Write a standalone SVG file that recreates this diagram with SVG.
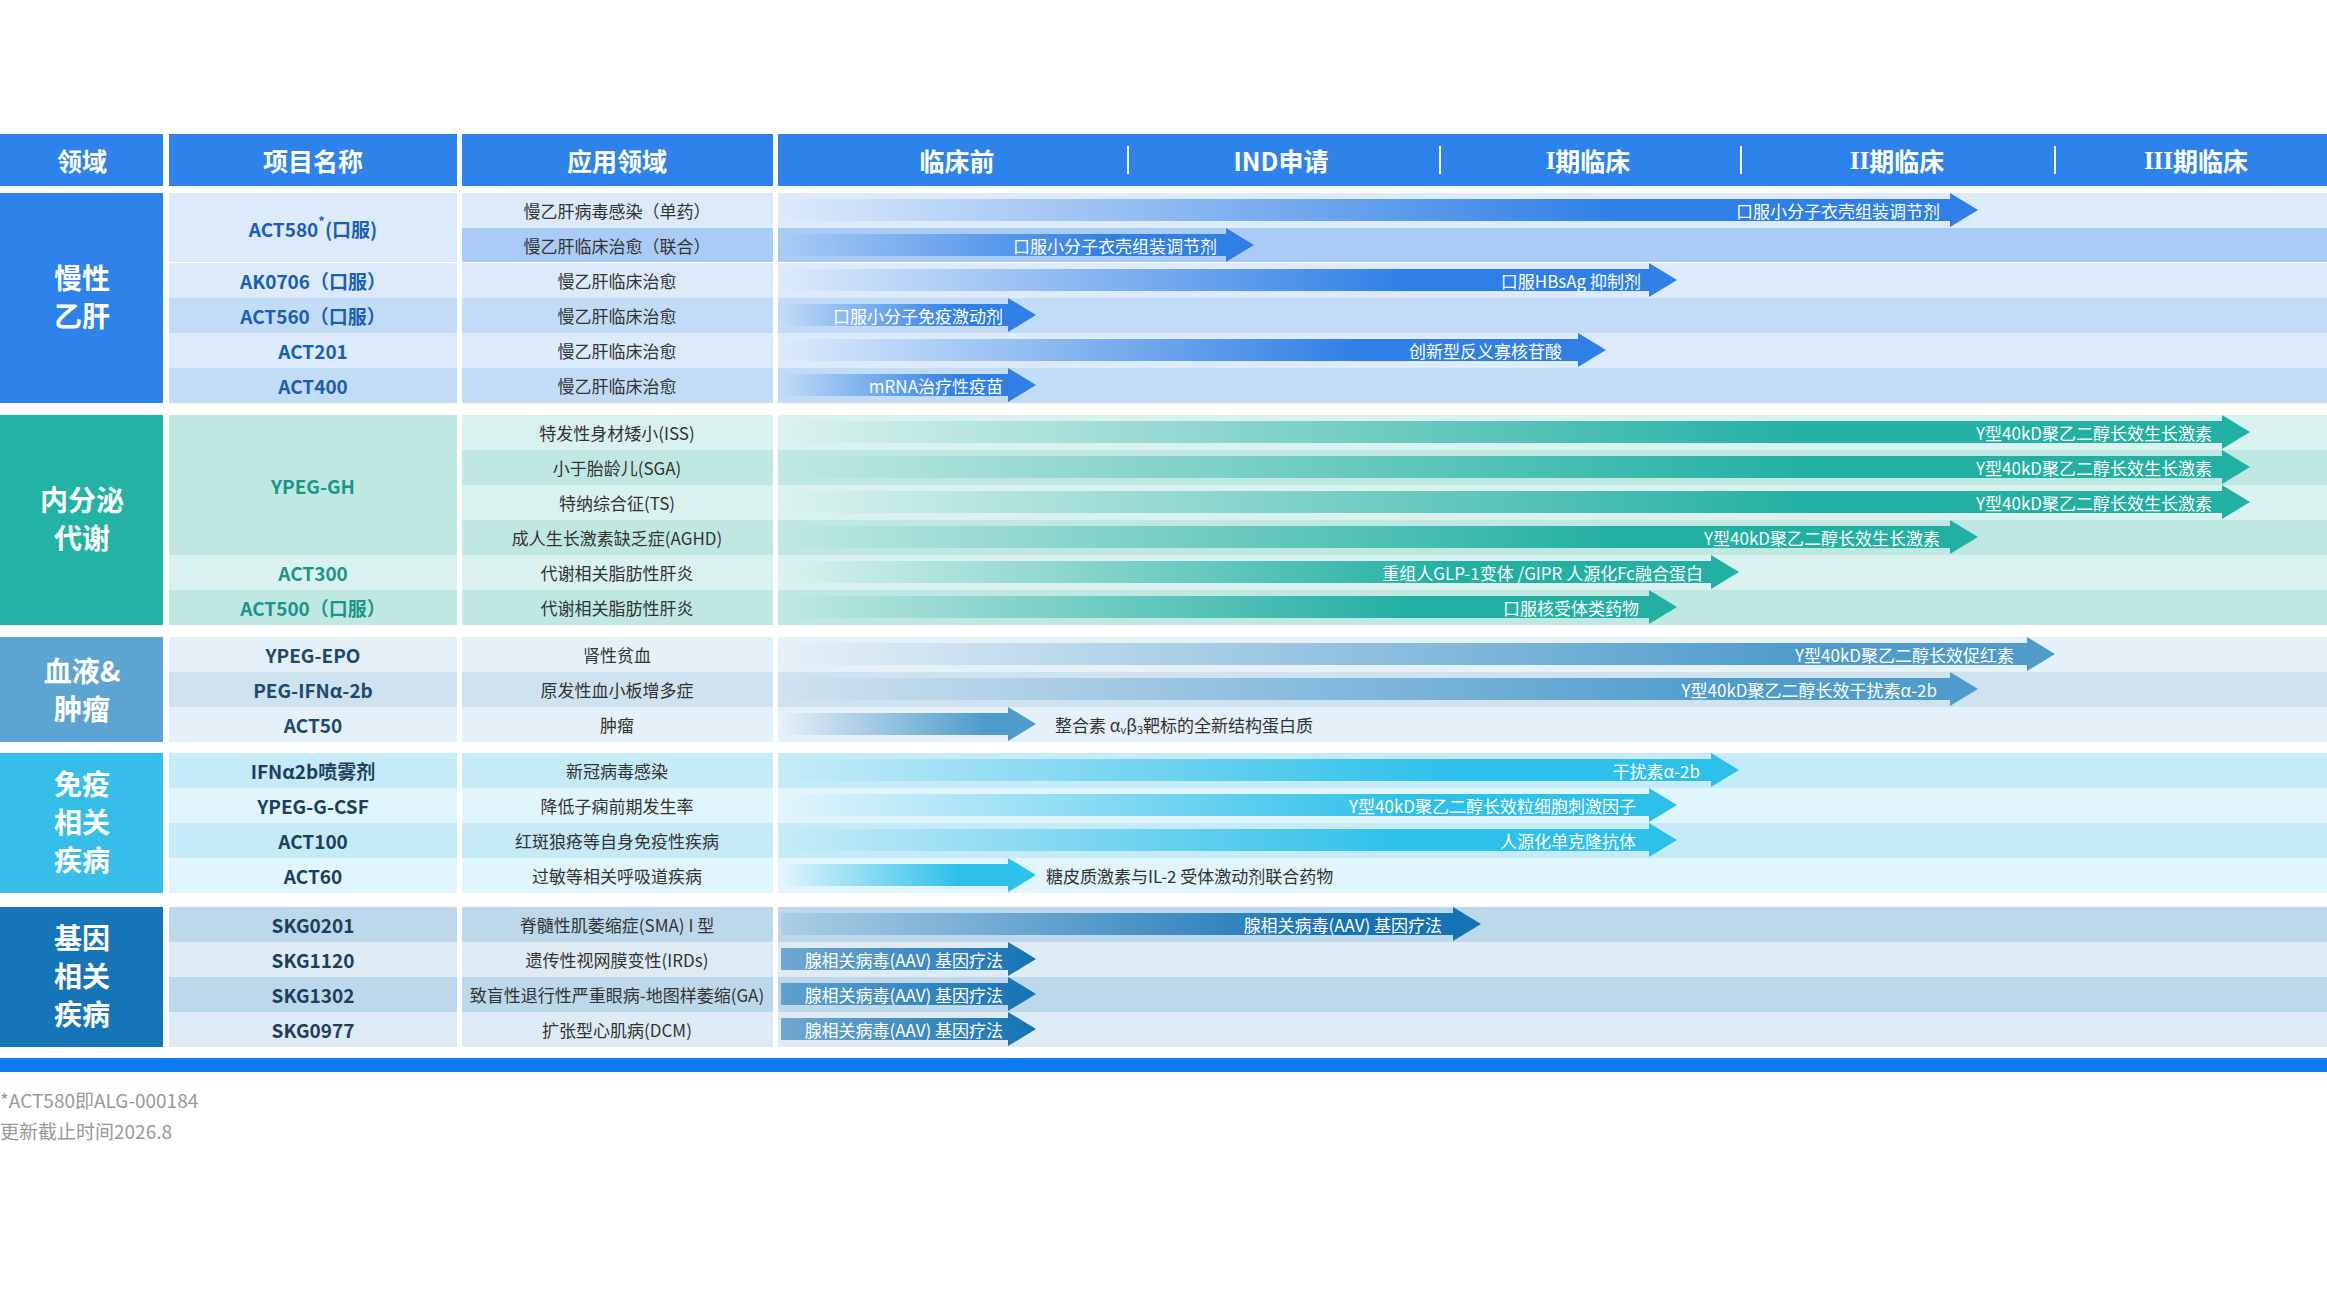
<svg xmlns="http://www.w3.org/2000/svg" width="2327" height="1309" viewBox="0 0 2327 1309">
<style>
text{font-family:"Noto Sans CJK SC","Noto Sans",sans-serif}
.h{fill:#fff;font-size:25px;font-weight:bold;text-anchor:middle;dominant-baseline:central}
.sec{fill:#fff;font-size:28px;font-weight:bold;text-anchor:middle}
.p{font-size:19px;font-weight:bold;text-anchor:middle;dominant-baseline:central}
.a{fill:#333;font-size:17px;text-anchor:middle;dominant-baseline:central}
.l{fill:#fff;font-size:17px;text-anchor:end;dominant-baseline:central}
.o{fill:#333;font-size:17px;dominant-baseline:central}
.f{fill:#999;font-size:19px}
.sep{stroke:#fff;stroke-width:2}
</style>
<defs>
<linearGradient id="g1"><stop offset="0" stop-color="#2f7fe6" stop-opacity="0"/><stop offset="0.7" stop-color="#2f7fe6"/></linearGradient>
<linearGradient id="g2"><stop offset="0" stop-color="#22b0a2" stop-opacity="0"/><stop offset="0.7" stop-color="#22b0a2"/></linearGradient>
<linearGradient id="g3"><stop offset="0" stop-color="#4e9bcc" stop-opacity="0"/><stop offset="0.8" stop-color="#4e9bcc"/></linearGradient>
<linearGradient id="g4"><stop offset="0" stop-color="#2cc0ea" stop-opacity="0"/><stop offset="0.7" stop-color="#2cc0ea"/></linearGradient>
<linearGradient id="g5"><stop offset="0" stop-color="#1472b5" stop-opacity="0.1"/><stop offset="0.8" stop-color="#1472b5"/></linearGradient>
<linearGradient id="g5s"><stop offset="0" stop-color="#1472b5" stop-opacity="0.55"/><stop offset="1" stop-color="#1472b5"/></linearGradient>
</defs>

<g id="header">
<rect x="0" y="134" width="163" height="52" fill="#2e83ea"/>
<rect x="169" y="134" width="288" height="52" fill="#2e83ea"/>
<rect x="462" y="134" width="311" height="52" fill="#2e83ea"/>
<rect x="778" y="134" width="1549" height="52" fill="#2e83ea"/>
<text class="h" x="82" y="160">领域</text>
<text class="h" x="313" y="160">项目名称</text>
<text class="h" x="617" y="160">应用领域</text>
<text class="h" x="957" y="160">临床前</text>
<text class="h" x="1281" y="160">IND申请</text>
<text class="h" x="1588" y="160"><tspan font-family="Liberation Serif,serif">I</tspan>期临床</text>
<text class="h" x="1897" y="160"><tspan font-family="Liberation Serif,serif">II</tspan>期临床</text>
<text class="h" x="2196" y="160"><tspan font-family="Liberation Serif,serif">III</tspan>期临床</text>
<line class="sep" x1="1128" y1="146" x2="1128" y2="174"/>
<line class="sep" x1="1440" y1="146" x2="1440" y2="174"/>
<line class="sep" x1="1741" y1="146" x2="1741" y2="174"/>
<line class="sep" x1="2055" y1="146" x2="2055" y2="174"/>
</g>

<g id="section-hbv">
<rect x="0" y="193" width="163" height="210" fill="#2e83ea"/>
<text class="sec" x="82" y="289">慢性</text><text class="sec" x="82" y="327">乙肝</text>
<rect x="169" y="193" width="288" height="69" fill="#dceafb"/>
<rect x="169" y="263" width="288" height="35" fill="#dceafb"/>
<rect x="169" y="298" width="288" height="35" fill="#c2dcf7"/>
<rect x="169" y="333" width="288" height="35" fill="#dceafb"/>
<rect x="169" y="368" width="288" height="35" fill="#c2dcf7"/>
<rect x="462" y="193" width="1865" height="35" fill="#dceafb"/>
<rect x="462" y="228" width="1865" height="34" fill="#a9cbf5"/>
<rect x="462" y="263" width="1865" height="35" fill="#dceafb"/>
<rect x="462" y="298" width="1865" height="35" fill="#c2dcf7"/>
<rect x="462" y="333" width="1865" height="35" fill="#dceafb"/>
<rect x="462" y="368" width="1865" height="35" fill="#c2dcf7"/>
<rect x="773" y="193" width="5" height="210" fill="#fff"/>
<g fill="#1b5fb5">
<text class="p" x="313" y="228">ACT580<tspan dy="-8" font-size="13">*</tspan><tspan dy="8">(口服)</tspan></text>
<text class="p" x="313" y="280">AK0706（口服）</text>
<text class="p" x="313" y="315">ACT560（口服）</text>
<text class="p" x="313" y="350">ACT201</text>
<text class="p" x="313" y="385">ACT400</text>
</g>
<text class="a" x="617" y="210">慢乙肝病毒感染（单药）</text>
<text class="a" x="617" y="245">慢乙肝临床治愈（联合）</text>
<text class="a" x="617" y="280">慢乙肝临床治愈</text>
<text class="a" x="617" y="315">慢乙肝临床治愈</text>
<text class="a" x="617" y="350">慢乙肝临床治愈</text>
<text class="a" x="617" y="385">慢乙肝临床治愈</text>
</g>

<g id="section-endo">
<rect x="0" y="415" width="163" height="210" fill="#22b3a5"/>
<text class="sec" x="82" y="511">内分泌</text><text class="sec" x="82" y="549">代谢</text>
<rect x="169" y="415" width="288" height="140" fill="#bfe8e3"/>
<rect x="169" y="555" width="288" height="35" fill="#daf2ef"/>
<rect x="169" y="590" width="288" height="35" fill="#bfe8e3"/>
<rect x="462" y="415" width="1865" height="35" fill="#daf2ef"/>
<rect x="462" y="450" width="1865" height="35" fill="#bfe8e3"/>
<rect x="462" y="485" width="1865" height="35" fill="#daf2ef"/>
<rect x="462" y="520" width="1865" height="35" fill="#bfe8e3"/>
<rect x="462" y="555" width="1865" height="35" fill="#daf2ef"/>
<rect x="462" y="590" width="1865" height="35" fill="#bfe8e3"/>
<rect x="773" y="415" width="5" height="210" fill="#fff"/>
<g fill="#1a958a">
<text class="p" x="313" y="485">YPEG-GH</text>
<text class="p" x="313" y="572">ACT300</text>
<text class="p" x="313" y="607">ACT500（口服）</text>
</g>
<text class="a" x="617" y="432">特发性身材矮小(ISS)</text>
<text class="a" x="617" y="467">小于胎龄儿(SGA)</text>
<text class="a" x="617" y="502">特纳综合征(TS)</text>
<text class="a" x="617" y="537">成人生长激素缺乏症(AGHD)</text>
<text class="a" x="617" y="572">代谢相关脂肪性肝炎</text>
<text class="a" x="617" y="607">代谢相关脂肪性肝炎</text>
</g>

<g id="section-blood">
<rect x="0" y="637" width="163" height="105" fill="#5ca4d2"/>
<text class="sec" x="82" y="682">血液&amp;</text><text class="sec" x="82" y="720">肿瘤</text>
<rect x="169" y="637" width="2158" height="35" fill="#e6f0f8"/>
<rect x="169" y="672" width="2158" height="35" fill="#cfe2f0"/>
<rect x="169" y="707" width="2158" height="35" fill="#e6f0f8"/>
<rect x="457" y="637" width="5" height="105" fill="#fff"/>
<rect x="773" y="637" width="5" height="105" fill="#fff"/>
<g fill="#1d4a6a">
<text class="p" x="313" y="654">YPEG-EPO</text>
<text class="p" x="313" y="689">PEG-IFNα-2b</text>
<text class="p" x="313" y="724">ACT50</text>
</g>
<text class="a" x="617" y="654">肾性贫血</text>
<text class="a" x="617" y="689">原发性血小板增多症</text>
<text class="a" x="617" y="724">肿瘤</text>
</g>

<g id="section-immune">
<rect x="0" y="753" width="163" height="140" fill="#36bee8"/>
<text class="sec" x="82" y="795">免疫</text><text class="sec" x="82" y="833">相关</text><text class="sec" x="82" y="871">疾病</text>
<rect x="169" y="753" width="2158" height="35" fill="#c6ebf8"/>
<rect x="169" y="788" width="2158" height="35" fill="#e1f5fc"/>
<rect x="169" y="823" width="2158" height="35" fill="#c6ebf8"/>
<rect x="169" y="858" width="2158" height="35" fill="#e1f5fc"/>
<rect x="457" y="753" width="5" height="140" fill="#fff"/>
<rect x="773" y="753" width="5" height="140" fill="#fff"/>
<g fill="#1d3f5e">
<text class="p" x="313" y="770">IFNα2b喷雾剂</text>
<text class="p" x="313" y="805">YPEG-G-CSF</text>
<text class="p" x="313" y="840">ACT100</text>
<text class="p" x="313" y="875">ACT60</text>
</g>
<text class="a" x="617" y="770">新冠病毒感染</text>
<text class="a" x="617" y="805">降低子痫前期发生率</text>
<text class="a" x="617" y="840">红斑狼疮等自身免疫性疾病</text>
<text class="a" x="617" y="875">过敏等相关呼吸道疾病</text>
</g>

<g id="section-gene">
<rect x="0" y="907" width="163" height="140" fill="#1675b8"/>
<text class="sec" x="82" y="949">基因</text><text class="sec" x="82" y="987">相关</text><text class="sec" x="82" y="1025">疾病</text>
<rect x="169" y="907" width="2158" height="35" fill="#bcd8ea"/>
<rect x="169" y="942" width="2158" height="35" fill="#deebf4"/>
<rect x="169" y="977" width="2158" height="35" fill="#bcd8ea"/>
<rect x="169" y="1012" width="2158" height="35" fill="#deebf4"/>
<rect x="457" y="907" width="5" height="140" fill="#fff"/>
<rect x="773" y="907" width="5" height="140" fill="#fff"/>
<g fill="#1d3f5e">
<text class="p" x="313" y="924">SKG0201</text>
<text class="p" x="313" y="959">SKG1120</text>
<text class="p" x="313" y="994">SKG1302</text>
<text class="p" x="313" y="1029">SKG0977</text>
</g>
<text class="a" x="617" y="924">脊髓性肌萎缩症(SMA) I 型</text>
<text class="a" x="617" y="959">遗传性视网膜变性(IRDs)</text>
<text class="a" x="617" y="994">致盲性退行性严重眼病-地图样萎缩(GA)</text>
<text class="a" x="617" y="1029">扩张型心肌病(DCM)</text>
</g>

<g id="connectors">
<path fill="url(#g1)" d="M781 199H1950V193L1978 210L1950 227V221H781Z"/>
<path fill="url(#g1)" d="M781 234H1226V228L1254 245L1226 262V256H781Z"/>
<path fill="url(#g1)" d="M781 269H1649V263L1677 280L1649 297V291H781Z"/>
<path fill="url(#g1)" d="M781 304H1008V298L1036 315L1008 332V326H781Z"/>
<path fill="url(#g1)" d="M781 339H1578V333L1606 350L1578 367V361H781Z"/>
<path fill="url(#g1)" d="M781 374H1008V368L1036 385L1008 402V396H781Z"/>
<path fill="url(#g2)" d="M781 421H2222V415L2250 432L2222 449V443H781Z"/>
<path fill="url(#g2)" d="M781 456H2222V450L2250 467L2222 484V478H781Z"/>
<path fill="url(#g2)" d="M781 491H2222V485L2250 502L2222 519V513H781Z"/>
<path fill="url(#g2)" d="M781 526H1950V520L1978 537L1950 554V548H781Z"/>
<path fill="url(#g2)" d="M781 561H1711V555L1739 572L1711 589V583H781Z"/>
<path fill="url(#g2)" d="M781 596H1649V590L1677 607L1649 624V618H781Z"/>
<path fill="url(#g3)" d="M781 643H2027V637L2055 654L2027 671V665H781Z"/>
<path fill="url(#g3)" d="M781 678H1950V672L1978 689L1950 706V700H781Z"/>
<path fill="url(#g3)" d="M781 713H1008V707L1036 724L1008 741V735H781Z"/>
<path fill="url(#g4)" d="M781 759H1711V753L1739 770L1711 787V781H781Z"/>
<path fill="url(#g4)" d="M781 794H1649V788L1677 805L1649 822V816H781Z"/>
<path fill="url(#g4)" d="M781 829H1649V823L1677 840L1649 857V851H781Z"/>
<path fill="url(#g4)" d="M781 864H1008V858L1036 875L1008 892V886H781Z"/>
<path fill="url(#g5)" d="M781 913H1453V907L1481 924L1453 941V935H781Z"/>
<path fill="url(#g5s)" d="M781 948H1008V942L1036 959L1008 976V970H781Z"/>
<path fill="url(#g5s)" d="M781 983H1008V977L1036 994L1008 1011V1005H781Z"/>
<path fill="url(#g5s)" d="M781 1018H1008V1012L1036 1029L1008 1046V1040H781Z"/>
</g>

<g id="arrow-labels">
<text class="l" x="1940" y="210">口服小分子衣壳组装调节剂</text>
<text class="l" x="1217" y="245">口服小分子衣壳组装调节剂</text>
<text class="l" x="1641" y="280">口服HBsAg 抑制剂</text>
<text class="l" x="1003" y="315">口服小分子免疫激动剂</text>
<text class="l" x="1562" y="350">创新型反义寡核苷酸</text>
<text class="l" x="1003" y="385">mRNA治疗性疫苗</text>
<text class="l" x="2212" y="432">Y型40kD聚乙二醇长效生长激素</text>
<text class="l" x="2212" y="467">Y型40kD聚乙二醇长效生长激素</text>
<text class="l" x="2212" y="502">Y型40kD聚乙二醇长效生长激素</text>
<text class="l" x="1940" y="537">Y型40kD聚乙二醇长效生长激素</text>
<text class="l" x="1703" y="572">重组人GLP-1变体 /GIPR 人源化Fc融合蛋白</text>
<text class="l" x="1639" y="607">口服核受体类药物</text>
<text class="l" x="2014" y="654">Y型40kD聚乙二醇长效促红素</text>
<text class="l" x="1937" y="689">Y型40kD聚乙二醇长效干扰素α-2b</text>
<text class="o" x="1055" y="724">整合素 α<tspan font-size="11" dy="5">v</tspan><tspan dy="-5">β</tspan><tspan font-size="11" dy="5">3</tspan><tspan dy="-5">靶标的全新结构蛋白质</tspan></text>
<text class="l" x="1700" y="770">干扰素α-2b</text>
<text class="l" x="1636" y="805">Y型40kD聚乙二醇长效粒细胞刺激因子</text>
<text class="l" x="1636" y="840">人源化单克隆抗体</text>
<text class="o" x="1046" y="875">糖皮质激素与IL-2 受体激动剂联合药物</text>
<text class="l" x="1442" y="924">腺相关病毒(AAV) 基因疗法</text>
<text class="l" x="1003" y="959">腺相关病毒(AAV) 基因疗法</text>
<text class="l" x="1003" y="994">腺相关病毒(AAV) 基因疗法</text>
<text class="l" x="1003" y="1029">腺相关病毒(AAV) 基因疗法</text>
</g>

<g id="footer">
<rect x="0" y="1058" width="2327" height="14" fill="#0a7cf5"/>
<text class="f" x="0" y="1108">*ACT580即ALG-000184</text>
<text class="f" x="0" y="1139">更新截止时间2026.8</text>
</g>
</svg>
